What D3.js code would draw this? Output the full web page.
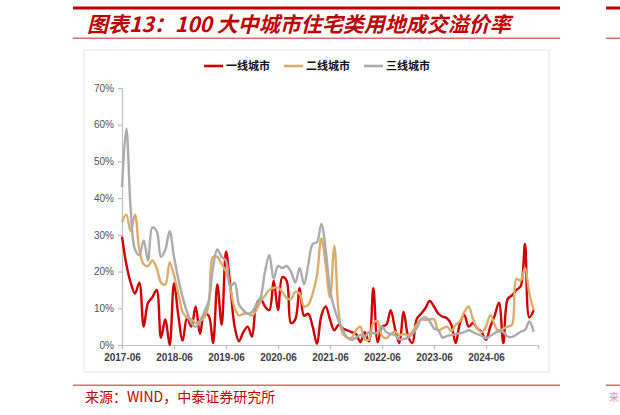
<!DOCTYPE html>
<html>
<head>
<meta charset="utf-8">
<script src="https://cdn.jsdelivr.net/npm/d3@7"></script>
<style>
body{margin:0;background:#fff;}
svg{display:block;}
</style>
</head>
<body>
<div id="container"></div>
<script>
// monthly, 2017-06 .. 2025-05
var tier1 = [29.5,22,17,14,17,5,11.5,13,15,2,7,0,
	16.8,8,1.2,7.5,5,10.5,3,8.5,8,0.5,16.5,5.5,
	25.5,16,5,1,3.5,5,2.3,11,12.5,10.5,9.5,17.5,
	9.5,18.5,17.5,6,7,15.5,8,8.5,5,0.3,8,10.5,
	7,4,5.5,4.5,4,3.5,3,0.8,3.5,1,15.5,0.8,
	5,5.5,9.5,4.5,0.5,9,2.5,0.5,7,8.5,10,12,
	10.5,8.5,7.7,7.3,5.5,0.5,6,8.2,5,6,4.5,3.5,
	1.4,5,8,11.5,0.5,12.5,13.5,15,16,27.5,7.5,9.5]
var tier2 = [33.5,35.5,31,35.5,26,22,21.5,23,21,17,16.5,22.5,
	19,14,9,7.5,7,6,6.5,7.5,11,24,24,22,
	20,15.5,10,8,8.5,8.5,8,9.5,12,13.5,15,15.6,
	15.6,14.5,12.8,12.5,14.5,14,10.5,11,14,19,29,22,
	13,27,9,3,2,2,4,5,1.5,1.5,6,6.5,
	2.5,1.8,3,3.6,2.7,3,2.7,3.6,5.5,7,6.8,7,
	7,4,4.5,5,3.8,5.5,6.5,9,10.5,7,4.5,3.5,
	5,8.2,5.5,3.5,4.5,5,5.5,18,17.5,21,14,9.5]
var tier3 = [43,59,37,26,24.5,28.5,23,32,31,24,26,31,
	24,18,13,9,6,5,6.5,9,12,21,26,24,
	23,16,17,11,9.5,8.5,9,11,13,20,24.5,18,
	21.5,21,21.5,20,17,21,16.5,22,27.5,28,33,26,
	15,10,6.5,4,2,1.4,2,2.7,2.3,3.5,3.2,3.5,
	5,3.5,3,2.7,1.5,1.6,2,3,4.5,7,7.5,6.5,
	4.5,4,2,2.5,2.7,3,3.2,3.5,4,3.5,3,2.5,
	1.8,2.5,3.2,4,3.5,2.3,2.2,2.8,3.6,4.1,6.4,3.6]
var seriesNames = ["一线城市","二线城市","三线城市"]
var seriesColors = ["#d00000","#dcad6a","#ababab"]
var tickLabels = ["2017-06","2018-06","2019-06","2020-06","2021-06","2022-06","2023-06","2024-06"]
var yTicks = [0,10,20,30,40,50,60,70]
var titleText = "图表13：100 大中城市住宅类用地成交溢价率"
var sourceText = "来源：WIND，中泰证券研究所"

// month labels, one extra slot for the closing tick
var months = []
for(var m=0;m<=tier1.length;m++){
	var yr = 2017+Math.floor((5+m)/12)
	var mo = (5+m)%12+1
	months.push(yr+"-"+(mo<10?"0"+mo:mo))
}

var svg = d3.select("#container").append("svg").attr("width",620).attr("height",415)
var red = "#c00000"

// header / footer rules
svg.append("rect").attr("x",73).attr("y",6.5).attr("width",487).attr("height",3).attr("fill",red)
svg.append("rect").attr("x",73).attr("y",37.5).attr("width",487).attr("height",1.5).attr("fill","#e06a6a")
svg.append("rect").attr("x",73).attr("y",384.5).attr("width",487).attr("height",1.5).attr("fill","#e06a6a")
// edge of the next panel
svg.append("rect").attr("x",606).attr("y",6.5).attr("width",20).attr("height",3).attr("fill",red)
svg.append("rect").attr("x",606).attr("y",37.5).attr("width",20).attr("height",1.5).attr("fill","#e06a6a")
svg.append("rect").attr("x",606).attr("y",384.5).attr("width",20).attr("height",1.5).attr("fill","#e06a6a")
svg.append("text").attr("x",609).attr("y",401).attr("font-family","Noto Sans CJK SC").attr("font-size",10)
	.attr("fill","#e89090").text("来")

svg.append("text")
	.attr("x",87).attr("y",32)
	.attr("font-family","'Noto Sans CJK SC', sans-serif")
	.attr("font-size",21).attr("font-weight","bold").attr("font-style","italic")
	.attr("fill",red)
	.text(titleText)

svg.append("text")
	.attr("x",85).attr("y",402)
	.attr("font-family","'Noto Sans CJK SC', sans-serif")
	.attr("font-size",14)
	.attr("fill",red)
	.text(sourceText)

// chart frame
svg.append("rect").attr("x",85).attr("y",51).attr("width",465).attr("height",322).attr("fill","#f2f2f2")
svg.append("rect").attr("x",84).attr("y",50).attr("width",465).attr("height",322)
	.attr("fill","#fff").attr("stroke","#e8e8e8")

var x = d3.scalePoint().domain(months).range([122,538])
var y = d3.scaleLinear().domain([0,70]).range([345,88])

var yAxis = svg.append("g").attr("transform","translate(122,0)")
	.call(d3.axisLeft(y).tickValues(yTicks).tickSize(4).tickPadding(4).tickFormat(function(d){return d+"%"}))
yAxis.selectAll("text").attr("font-family","'Liberation Sans', sans-serif").attr("font-size",10).attr("fill","#505050")

var xAxis = svg.append("g").attr("transform","translate(0,345)")
	.call(d3.axisBottom(x)
		.tickValues(months.filter(function(d,i){return i%12==0}))
		.tickSize(4).tickPadding(5)
		.tickFormat(function(d){return tickLabels.indexOf(d)>=0 ? d : ""}))
xAxis.selectAll("text").attr("font-family","'Liberation Sans', sans-serif").attr("font-size",10)
	.attr("font-weight","bold").attr("fill","#404040")

svg.selectAll(".domain, .tick line").attr("stroke","#bfbfbf").attr("stroke-width",1.2)

var line = d3.line()
	.x(function(d,i){return x(months[i])})
	.y(function(d){return y(d)})
	.curve(d3.curveCatmullRom.alpha(0.5))

svg.append("clipPath").attr("id","plot").append("rect").attr("x",118).attr("y",80).attr("width",430).attr("height",266)
var series = [tier1,tier2,tier3]
series.forEach(function(s,k){
	svg.append("path")
		.attr("d",line(s))
		.attr("fill","none")
		.attr("stroke",seriesColors[k])
		.attr("stroke-width",2.4)
		.attr("stroke-linejoin","round")
		.attr("clip-path","url(#plot)")
})

// legend
var legendX = [204,284,364]
var legend = svg.selectAll(".legend").data(seriesNames).enter().append("g").attr("class","legend")
legend.append("line")
	.attr("x1",function(d,i){return legendX[i]}).attr("x2",function(d,i){return legendX[i]+19})
	.attr("y1",66).attr("y2",66)
	.attr("stroke",function(d,i){return seriesColors[i]}).attr("stroke-width",2.6)
legend.append("text")
	.attr("x",function(d,i){return legendX[i]+22}).attr("y",70)
	.attr("font-family","'Noto Sans CJK SC', sans-serif").attr("font-size",11).attr("font-weight","bold")
	.attr("fill","#111")
	.text(function(d){return d})
</script>
</body>
</html>
